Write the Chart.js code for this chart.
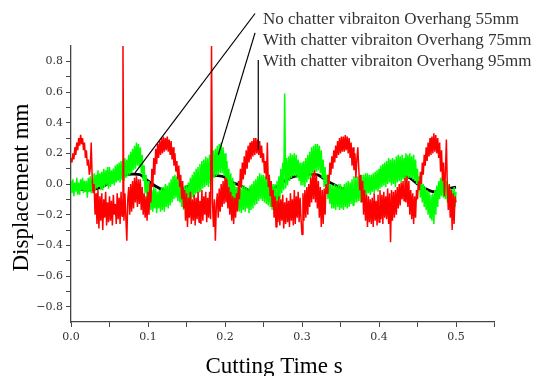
<!DOCTYPE html>
<html><head><meta charset="utf-8">
<script src="https://cdn.jsdelivr.net/npm/chart.js@4.4.0/dist/chart.umd.min.js"></script>
<style>html,body{margin:0;padding:0;background:#fff}canvas{display:block}</style>
</head><body>
<canvas id="c" width="536" height="376"></canvas>
<script>
// ---- data ----
const seriesNames = [
  'No chatter vibraiton Overhang 55mm',
  'With chatter vibraiton Overhang 75mm',
  'With chatter vibraiton Overhang 95mm'
];
const xTitle = 'Cutting Time s';
const yTitle = 'Displacement mm';
const xTickLabels = ['0.0','0.1','0.2','0.3','0.4','0.5'];
const yTickLabels = ['0.8','0.6','0.4','0.2','0.0','\u22120.2','\u22120.4','\u22120.6','\u22120.8'];

// sample intervals (s)
const smoothStep = 0.01;
const noisyStep = 0.00125;

// 55 mm, no chatter (black), t = 0 .. 0.5 every 0.01 s
const black55 = [
 -0.02,-0.03,-0.04,-0.035,-0.02,0.01,0.04,0.06,0.065,0.06,
 0.02,-0.015,-0.04,-0.05,-0.045,-0.02,0.01,0.04,0.055,0.055,
 0.045,0.01,-0.01,-0.04,-0.05,-0.05,-0.035,-0.01,0.03,0.05,
 0.06,0.065,0.06,0.03,0.0,-0.025,-0.04,-0.04,-0.03,-0.015,
 0.02,0.045,0.06,0.06,0.04,0.0,-0.03,-0.05,-0.04,-0.03,
 -0.02
];

// 75 mm, with chatter (green), t = 0 .. 0.5 every 0.00125 s (one row = 0.01 s)
const green75 = [
 0.02,-0.06,0.03,-0.08,0.01,-0.05,0.04,-0.07,
 0.01,-0.07,0.03,-0.04,0.04,-0.06,0.02,-0.05,
 0.02,-0.09,0.04,-0.05,0.05,-0.06,0.03,-0.04,
 0.07,-0.04,0.06,-0.03,0.09,-0.02,0.07,-0.04,
 0.08,-0.04,0.10,-0.02,0.09,-0.01,0.11,-0.03,
 0.11,-0.02,0.09,0.00,0.10,-0.01,0.12,0.01,
 0.13,0.02,0.14,0.01,0.15,0.03,0.16,0.02,
 0.17,0.04,0.16,0.05,0.19,0.06,0.21,0.07,
 0.23,0.09,0.25,0.10,0.27,0.12,0.26,0.11,
 0.24,0.07,0.19,0.02,0.12,-0.06,0.06,-0.11,
 0.02,-0.15,-0.02,-0.17,-0.04,-0.18,-0.02,-0.16,
 -0.03,-0.19,-0.05,-0.16,-0.04,-0.18,-0.02,-0.17,
 -0.02,-0.18,0.00,-0.15,-0.01,-0.16,0.01,-0.14,
 0.03,-0.12,0.05,-0.10,0.06,-0.09,0.05,-0.11,
 0.04,-0.12,0.01,-0.15,-0.02,-0.17,-0.01,-0.16,
 -0.01,-0.16,0.01,-0.13,0.04,-0.10,0.06,-0.09,
 0.08,-0.07,0.10,-0.06,0.11,-0.05,0.13,-0.04,
 0.15,-0.03,0.16,-0.02,0.18,-0.01,0.17,-0.02,
 0.19,0.00,0.20,0.02,0.22,0.04,0.23,0.05,
 0.25,0.06,0.26,0.07,0.27,0.07,0.24,0.05,
 0.20,0.02,0.15,-0.03,0.10,-0.08,0.07,-0.10,
 0.04,-0.12,0.01,-0.15,-0.02,-0.17,-0.03,-0.18,
 -0.03,-0.19,-0.01,-0.17,-0.01,-0.18,-0.02,-0.16,
 -0.03,-0.19,-0.01,-0.17,0.00,-0.16,0.02,-0.14,
 0.03,-0.13,0.05,-0.11,0.07,-0.10,0.06,-0.11,
 0.06,-0.12,0.05,-0.13,0.04,-0.14,0.02,-0.15,
 0.01,-0.17,0.00,-0.15,0.00,-0.16,0.02,-0.13,
 0.05,-0.10,0.10,-0.06,0.14,-0.04,0.59,-0.03,
 0.17,-0.01,0.18,0.02,0.20,0.04,0.19,0.05,
 0.20,0.05,0.19,0.04,0.16,0.02,0.14,-0.01,
 0.14,-0.01,0.15,-0.02,0.17,0.01,0.19,0.03,
 0.21,0.04,0.24,0.06,0.25,0.07,0.26,0.08,
 0.26,0.09,0.25,0.07,0.22,0.04,0.16,-0.02,
 0.11,-0.06,0.06,-0.10,0.03,-0.13,0.00,-0.16,
 -0.01,-0.16,0.00,-0.17,-0.01,-0.15,0.00,-0.17,
 0.00,-0.16,-0.02,-0.17,0.00,-0.15,0.01,-0.16,
 0.02,-0.15,0.01,-0.13,0.03,-0.14,0.05,-0.12,
 0.04,-0.12,0.05,-0.11,0.04,-0.12,0.06,-0.10,
 0.06,-0.09,0.07,-0.08,0.07,-0.06,0.06,-0.07,
 0.06,-0.05,0.07,-0.06,0.08,-0.04,0.09,-0.05,
 0.10,-0.03,0.12,-0.02,0.13,-0.01,0.14,-0.02,
 0.15,0.00,0.17,0.01,0.16,-0.01,0.17,0.00,
 0.16,-0.02,0.18,0.01,0.19,0.02,0.18,0.01,
 0.19,0.03,0.17,0.02,0.20,0.03,0.19,0.04,
 0.20,0.04,0.18,0.03,0.19,0.02,0.16,0.00,
 0.10,-0.04,0.05,-0.09,0.03,-0.12,0.00,-0.15,
 -0.02,-0.17,-0.04,-0.20,-0.05,-0.22,-0.07,-0.24,
 -0.06,-0.26,-0.04,-0.20,-0.01,-0.15,0.02,-0.10,
 0.04,-0.08,0.05,-0.09,0.03,-0.10,0.02,-0.12,
 -0.01,-0.14,-0.03,-0.16,-0.04,-0.17,-0.02,-0.15,
 -0.05
];

// 95 mm, with chatter (red), t = 0 .. 0.5 every 0.00125 s (one row = 0.01 s)
const red95 = [
 0.17,0.14,0.20,0.16,0.24,0.19,0.27,0.22,
 0.30,0.25,0.32,0.26,0.30,0.22,0.27,0.17,
 0.22,0.12,0.16,0.06,0.10,0.27,0.04,-0.06,
 0.00,-0.20,-0.06,-0.26,-0.04,-0.29,-0.08,-0.24,
 -0.06,-0.30,-0.10,-0.22,-0.05,-0.27,-0.12,-0.25,
 -0.08,-0.24,-0.11,-0.27,-0.07,-0.20,-0.13,-0.26,
 -0.06,-0.23,-0.09,-0.26,-0.05,-0.21,0.90,-0.24,
 -0.06,-0.22,-0.37,-0.10,-0.02,-0.20,0.00,-0.18,
 0.02,-0.16,0.04,-0.12,0.05,-0.15,0.03,-0.13,
 0.03,-0.17,-0.02,-0.20,-0.06,-0.22,-0.08,-0.24,
 -0.05,-0.20,0.00,-0.12,0.10,-0.02,0.17,0.06,
 0.23,0.13,0.26,0.17,0.28,0.19,0.30,0.20,
 0.31,0.21,0.30,0.22,0.31,0.21,0.29,0.19,
 0.28,0.16,0.24,0.12,0.20,0.08,0.15,0.03,
 0.12,-0.02,0.06,-0.10,0.02,-0.16,-0.04,-0.24,
 -0.06,-0.28,-0.09,-0.22,-0.05,-0.26,-0.10,-0.24,
 -0.07,-0.27,-0.09,-0.23,-0.05,-0.25,-0.11,-0.26,
 -0.04,-0.24,-0.08,-0.20,-0.05,-0.25,-0.09,-0.22,
 -0.05,-0.23,0.90,-0.12,-0.28,-0.10,-0.37,-0.14,
 -0.06,-0.22,-0.03,-0.18,0.00,-0.15,0.02,-0.13,
 0.04,-0.12,0.03,-0.16,-0.02,-0.20,-0.05,-0.24,
 -0.08,-0.26,-0.09,-0.22,-0.06,-0.18,0.02,-0.10,
 0.10,-0.02,0.14,0.03,0.18,0.06,0.22,0.10,
 0.25,0.14,0.27,0.16,0.28,0.18,0.30,0.19,
 0.30,0.20,0.29,0.19,0.28,0.17,0.25,0.14,
 0.20,0.07,0.15,0.03,0.27,-0.02,0.06,-0.08,
 0.02,-0.15,-0.04,-0.22,-0.08,-0.28,-0.11,-0.25,
 -0.08,-0.27,-0.10,-0.24,-0.07,-0.29,-0.12,-0.26,
 -0.09,-0.25,-0.11,-0.28,-0.06,-0.24,-0.10,-0.27,
 -0.04,-0.26,-0.08,-0.22,-0.05,-0.25,-0.09,-0.23,
 -0.33,-0.06,-0.24,-0.04,-0.22,-0.02,-0.20,0.00,
 -0.15,0.04,-0.12,0.07,-0.10,0.09,-0.12,0.06,
 -0.16,0.02,-0.22,-0.02,-0.28,-0.04,-0.26,-0.03,
 -0.20,0.00,-0.06,0.06,0.00,0.14,0.06,0.18,
 0.10,0.22,0.14,0.25,0.17,0.28,0.19,0.30,
 0.20,0.31,0.21,0.31,0.21,0.32,0.22,0.31,
 0.20,0.30,0.17,0.27,0.12,0.24,0.09,0.20,
 0.04,0.16,0.24,0.10,-0.04,0.06,-0.12,0.02,
 -0.20,-0.04,-0.24,-0.07,-0.28,-0.08,-0.25,-0.10,
 -0.26,-0.09,-0.28,-0.06,-0.24,-0.11,-0.27,-0.07,
 -0.25,-0.04,-0.23,-0.07,-0.26,-0.05,-0.22,-0.08,
 -0.23,-0.03,-0.26,-0.06,-0.38,-0.04,-0.24,-0.05,
 -0.22,-0.04,-0.20,-0.02,-0.16,0.00,-0.14,0.01,
 -0.10,0.02,-0.11,0.04,-0.12,0.05,-0.15,0.02,
 -0.20,-0.04,-0.23,-0.06,-0.26,-0.08,-0.22,-0.04,
 -0.10,0.02,-0.04,0.08,0.00,0.14,0.06,0.19,
 0.12,0.24,0.15,0.27,0.18,0.30,0.19,0.31,
 0.20,0.33,0.21,0.32,0.20,0.30,0.17,0.27,
 0.08,0.22,0.02,0.14,-0.08,0.08,0.29,-0.02,
 -0.17,0.00,-0.22,-0.04,-0.30,-0.06,-0.26,-0.08,
 -0.12
];

// annotation placement (data units)
const labelX = 0.2494;
const labelY = [1.046, 0.909, 0.772];
const leaderLines = [
  [0.239, 1.112, 0.0831, 0.072],
  [0.239, 0.986, 0.1913, 0.190],
  [0.2432, 0.808, 0.2432, 0.222]
];

// ---- build ----
const toXY = (arr, step) => arr.map((v, i) => ({x: +(i * step).toFixed(5), y: v}));

const annot = {
  id: 'annot',
  afterDraw(chart) {
    const {ctx, scales: {x, y}} = chart;
    ctx.save();
    ctx.strokeStyle = '#000';
    ctx.lineWidth = 1.2;
    leaderLines.forEach(([x1, y1, x2, y2]) => {
      ctx.beginPath();
      ctx.moveTo(x.getPixelForValue(x1), y.getPixelForValue(y1));
      ctx.lineTo(x.getPixelForValue(x2), y.getPixelForValue(y2));
      ctx.stroke();
    });
    ctx.fillStyle = '#333';
    ctx.font = '17px "Liberation Serif"';
    ctx.textAlign = 'left';
    ctx.textBaseline = 'alphabetic';
    seriesNames.forEach((s, i) => ctx.fillText(s, x.getPixelForValue(labelX), y.getPixelForValue(labelY[i])));
    ctx.fillStyle = '#000';
    ctx.font = '23px "Liberation Serif"';
    ctx.textAlign = 'center';
    ctx.fillText(xTitle, 274, 373);
    ctx.save();
    ctx.translate(28, 187.5);
    ctx.rotate(-Math.PI / 2);
    ctx.fillText(yTitle, 0, 0);
    ctx.restore();
    ctx.restore();
  }
};

const tickFont = {family: '"DejaVu Serif"', size: 11};
const near = (a, b) => Math.abs(a - b) < 1e-6;

new Chart(document.getElementById('c'), {
  type: 'line',
  data: {
    datasets: [
      {label: seriesNames[2], data: toXY(red95, noisyStep), borderColor: '#ff0000', borderWidth: 1.5, pointRadius: 0, tension: 0, borderJoinStyle: 'bevel'},
      {label: seriesNames[1], data: toXY(green75, noisyStep), borderColor: '#00ff00', borderWidth: 1.5, pointRadius: 0, tension: 0, borderJoinStyle: 'bevel'},
      {label: seriesNames[0], data: toXY(black55, smoothStep), borderColor: '#000000', borderWidth: 2.8, pointRadius: 0, tension: 0.3}
    ]
  },
  options: {
    responsive: false,
    animation: false,
    devicePixelRatio: 1,
    layout: {padding: {left: 0, right: 41.5, top: 46, bottom: 0}},
    plugins: {legend: {display: false}, tooltip: {enabled: false}},
    scales: {
      x: {
        type: 'linear', min: 0, max: 0.55,
        afterFit: s => { s.height = 54; },
        border: {display: true, color: '#444', width: 1.3},
        grid: {drawOnChartArea: false, drawTicks: true, tickLength: 5, color: '#444', lineWidth: 1},
        ticks: {
          stepSize: 0.05, autoSkip: false, maxRotation: 0, padding: 4,
          color: '#333', font: tickFont,
          callback: v => {
            const k = Math.round(v * 10);
            return near(v * 10, k) && k <= 5 ? xTickLabels[k] : '';
          }
        }
      },
      y: {
        type: 'linear', min: -0.9, max: 0.9,
        afterFit: s => { s.width = 71; },
        border: {display: true, color: '#444', width: 1.3},
        grid: {
          drawOnChartArea: false, drawTicks: true, tickLength: 5, lineWidth: 1,
          color: c => (Math.abs(c.tick.value) > 0.85 ? 'rgba(0,0,0,0)' : '#444')
        },
        ticks: {
          stepSize: 0.1, autoSkip: false, padding: 3,
          color: '#333', font: tickFont,
          callback: v => {
            const k = Math.round((0.8 - v) / 0.2);
            return near((0.8 - v) / 0.2, k) && k >= 0 && k <= 8 ? yTickLabels[k] : '';
          }
        }
      }
    }
  },
  plugins: [annot]
});
</script>
</body></html>
